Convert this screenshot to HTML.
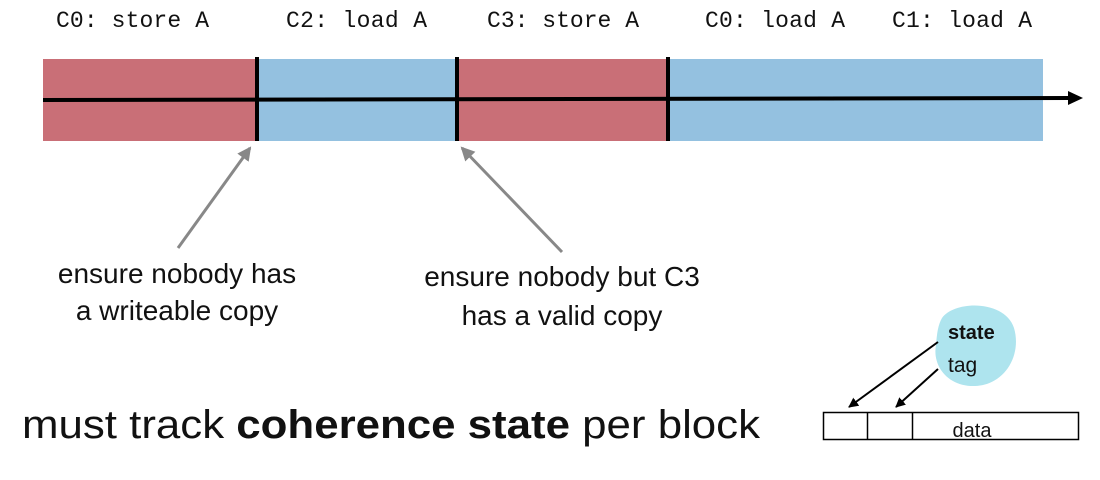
<!DOCTYPE html>
<html><head><meta charset="utf-8"><style>
body{margin:0;background:#fff}
svg{display:block}
</style></head><body>
<svg width="1100" height="480" viewBox="0 0 1100 480" font-family="'Liberation Sans', sans-serif">
<defs>
<marker id="ah" markerWidth="10" markerHeight="10" refX="9" refY="5" orient="auto" markerUnits="userSpaceOnUse"><path d="M0,0 L10,5 L0,10 z" fill="#000"/></marker>
<marker id="ahg" markerWidth="14" markerHeight="14" refX="12" refY="7" orient="auto" markerUnits="userSpaceOnUse"><path d="M0,0 L14,7 L0,14 z" fill="#888"/></marker>
</defs>
<g font-family="'Liberation Mono', monospace" font-size="23" fill="#111">
<text x="56" y="27" textLength="153">C0: store A</text>
<text x="286" y="27" textLength="141">C2: load A</text>
<text x="487" y="27" textLength="152">C3: store A</text>
<text x="705" y="27" textLength="140">C0: load A</text>
<text x="892" y="27" textLength="140">C1: load A</text>
</g>
<rect x="43" y="59" width="213" height="82" fill="#c96f77"/>
<rect x="256" y="59" width="200" height="82" fill="#94c1e0"/>
<rect x="456" y="59" width="212" height="82" fill="#c96f77"/>
<rect x="668" y="59" width="375" height="82" fill="#94c1e0"/>
<line x1="43" y1="100" x2="1070" y2="98" stroke="#000" stroke-width="4"/>
<path d="M1068,91 L1083,98 L1068,105 z" fill="#000"/>
<line x1="257" y1="57" x2="257" y2="141" stroke="#000" stroke-width="4"/>
<line x1="457" y1="57" x2="457" y2="141" stroke="#000" stroke-width="4"/>
<line x1="668" y1="57" x2="668" y2="141" stroke="#000" stroke-width="4"/>
<line x1="178" y1="248" x2="250" y2="148" stroke="#888" stroke-width="3" marker-end="url(#ahg)"/>
<line x1="562" y1="252" x2="462" y2="148" stroke="#888" stroke-width="3" marker-end="url(#ahg)"/>
<g font-size="28" fill="#111" text-anchor="middle">
<text x="177" y="283">ensure nobody has</text>
<text x="177" y="320">a writeable copy</text>
<text x="562" y="286">ensure nobody but C3</text>
<text x="562" y="325">has a valid copy</text>
</g>
<text x="22" y="438" font-size="40" fill="#111" textLength="738" lengthAdjust="spacingAndGlyphs">must track <tspan font-weight="bold">coherence state</tspan> per block</text>
<path d="M942,318 C955,300 1005,300 1014,328 C1022,355 1005,385 975,386 C948,387 932,366 936,345 C937,333 938,325 942,318 z" fill="#aee4ee"/>
<text x="948" y="339" font-size="20" font-weight="bold" fill="#111">state</text>
<text x="948" y="372" font-size="21" fill="#111">tag</text>
<line x1="938" y1="342" x2="849" y2="407" stroke="#000" stroke-width="2" marker-end="url(#ah)"/>
<line x1="938" y1="369" x2="896" y2="407" stroke="#000" stroke-width="2" marker-end="url(#ah)"/>
<rect x="823.5" y="412.5" width="255" height="27" fill="none" stroke="#000" stroke-width="1.5"/>
<line x1="867.5" y1="412" x2="867.5" y2="440" stroke="#000" stroke-width="1.5"/>
<line x1="912.5" y1="412" x2="912.5" y2="440" stroke="#000" stroke-width="1.5"/>
<text x="972" y="437" font-size="20" fill="#111" text-anchor="middle">data</text>
</svg>
</body></html>
